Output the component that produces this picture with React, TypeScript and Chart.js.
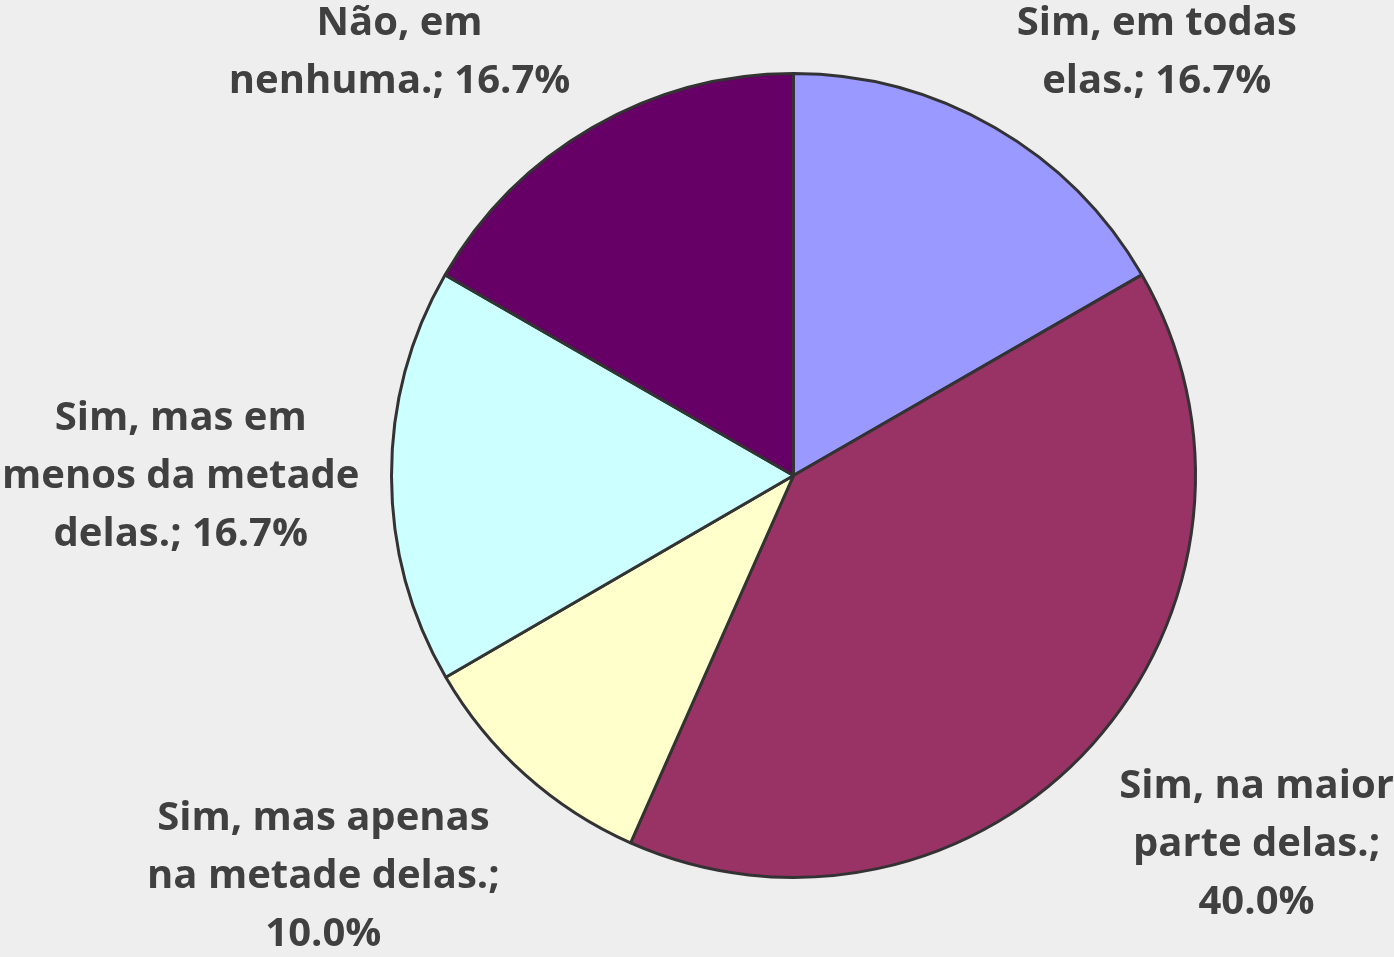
import React, { useEffect, useRef } from "react";
import { Chart, registerables } from "chart.js";

Chart.register(...registerables);

const categories: string[][] = [
  ["Sim, em todas", "elas.; 16.7%"],
  ["Sim, na maior", "parte delas.;", "40.0%"],
  ["Sim, mas apenas", "na metade delas.;", "10.0%"],
  ["Sim, mas em", "menos da metade", "delas.; 16.7%"],
  ["Não, em", "nenhuma.; 16.7%"],
];
const values: number[] = [16.7, 40.0, 10.0, 16.7, 16.7];
const colors: string[] = ["#9999FF", "#993366", "#FFFFCC", "#CCFFFF", "#660066"];

const FONT_SIZE = 40;
const LINE_H = 58;
const LABEL_GAP = 20;
const PAD_X = 12;

const labelPlugin = {
  id: "outsideLabels",
  afterDatasetsDraw(chart: any) {
    const ctx = chart.ctx;
    const meta = chart.getDatasetMeta(0);
    ctx.save();
    ctx.font = `bold ${FONT_SIZE}px "Open Sans", sans-serif`;
    ctx.fillStyle = "#404040";
    ctx.textAlign = "center";
    ctx.textBaseline = "middle";
    meta.data.forEach((arc: any, i: number) => {
      const { x, y, startAngle, endAngle, outerRadius } = arc.getProps(
        ["x", "y", "startAngle", "endAngle", "outerRadius"],
        true
      );
      const mid = (startAngle + endAngle) / 2;
      const r = outerRadius + LABEL_GAP;
      const ax = x + Math.cos(mid) * r;
      const ay = y + Math.sin(mid) * r;
      const lines = categories[i];
      const w = Math.max(...lines.map((l) => ctx.measureText(l).width)) + PAD_X * 2;
      const h = lines.length * LINE_H;
      const c = Math.cos(mid);
      const s = Math.sin(mid);
      let left: number;
      if (c > 0.1) left = ax;
      else if (c < -0.1) left = ax - w;
      else left = ax - w / 2;
      let top: number;
      if (s > 0.1) top = ay;
      else if (s < -0.1) top = ay - h;
      else top = ay - h / 2;
      lines.forEach((l, j) => {
        ctx.fillText(l, left + w / 2, top + LINE_H * (j + 0.5));
      });
    });
    ctx.restore();
  },
};

export default function App() {
  const ref = useRef<HTMLCanvasElement | null>(null);
  useEffect(() => {
    document.body.style.margin = "0";
    const chart = new Chart(ref.current as HTMLCanvasElement, {
      type: "pie",
      data: {
        labels: categories.map((c) => c.join(" ")),
        datasets: [
          {
            data: values,
            backgroundColor: colors,
            borderColor: "#333333",
            borderWidth: 3,
          },
        ],
      },
      options: {
        animation: false,
        responsive: false,
        layout: { padding: { left: 390, right: 197, top: 72, bottom: 78 } },
        plugins: { legend: { display: false }, tooltip: { enabled: false } },
      },
      plugins: [labelPlugin],
    });
    return () => chart.destroy();
  }, []);
  return (
    <div style={{ width: 1394, height: 957, background: "#EEEEEE" }}>
      <canvas ref={ref} width={1394} height={957} style={{ display: "block" }} />
    </div>
  );
}
